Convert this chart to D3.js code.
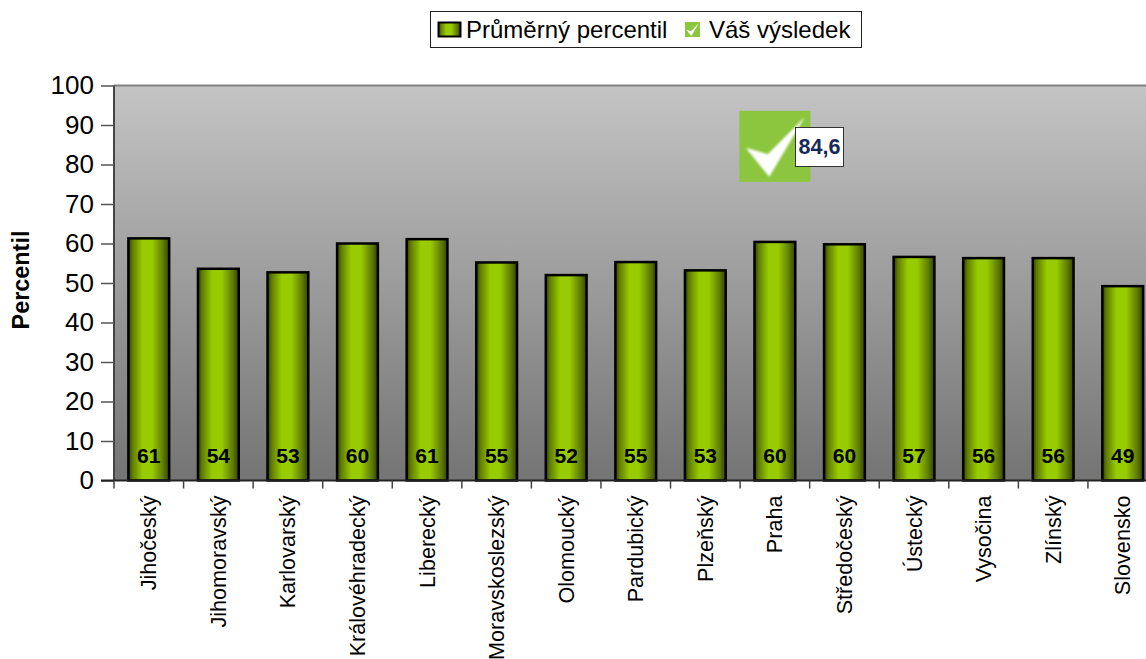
<!DOCTYPE html>
<html><head><meta charset="utf-8">
<script src="https://cdn.jsdelivr.net/npm/d3@7"></script>
<style>html,body{margin:0;padding:0;background:#fff;overflow:hidden}svg{display:block}text{font-family:"Liberation Sans",Arial,sans-serif}</style>
</head><body><svg id="c" width="1146" height="659"></svg>
<script>
const regions=["Jihočeský","Jihomoravský","Karlovarský","Královéhradecký","Liberecký","Moravskoslezský","Olomoucký","Pardubický","Plzeňský","Praha","Středočeský","Ústecký","Vysočina","Zlínský","Slovensko"];
const percentil=[61.3,53.6,52.7,60.0,61.1,55.2,52.0,55.3,53.2,60.4,59.8,56.6,56.3,56.3,49.2];
const yTicks=[0,10,20,30,40,50,60,70,80,90,100];
const yourResult={region:"Praha",value:84.6,label:"84,6"};
const legendLabels=["Průměrný percentil","Váš výsledek"];
const yTitle="Percentil";

const svg=d3.select("#c");
const L=114,R=1157.5,T=85.5,B=480.5;
const x=d3.scaleBand().domain(regions).range([L,R]).paddingInner(0.385).paddingOuter(0.1925);
const y=d3.scaleLinear().domain([0,100]).range([B,T]);
const defs=svg.append("defs");
const bg=defs.append("linearGradient").attr("id","bg").attr("x1",0).attr("y1",0).attr("x2",0).attr("y2",1);
bg.append("stop").attr("offset","0").attr("stop-color","#c4c4c4");
bg.append("stop").attr("offset","1").attr("stop-color","#747474");
const bar=defs.append("linearGradient").attr("id","bar");
[[0,"#2f3d00"],[0.1,"#5f7c00"],[0.35,"#99cc00"],[0.58,"#99cc00"],[0.85,"#5f7c00"],[1,"#334200"]].forEach(s=>bar.append("stop").attr("offset",s[0]).attr("stop-color",s[1]));
const wb=defs.append("filter").attr("id","soft").attr("x","-10%").attr("y","-10%").attr("width","120%").attr("height","120%");
wb.append("feGaussianBlur").attr("stdDeviation",1);
const check=(g,cx,cy,s)=>g.append("path")
  .attr("d",`M${cx-0.41*s},${cy+0.02*s}L${cx-0.10*s},${cy+0.11*s}L${cx+0.42*s},${cy-0.41*s}L${cx-0.08*s},${cy+0.43*s}Z`)
  .attr("fill","#fff");

svg.append("rect").attr("x",L).attr("y",T).attr("width",R-L).attr("height",B-T).attr("fill","url(#bg)");
svg.append("line").attr("x1",L).attr("x2",R).attr("y1",T).attr("y2",T).attr("stroke","#808080").attr("stroke-width",2);

svg.selectAll("rect.b").data(regions).join("rect").attr("class","b")
  .attr("x",d=>x(d)+1).attr("width",x.bandwidth()-2)
  .attr("y",(d,i)=>y(percentil[i])).attr("height",(d,i)=>B-y(percentil[i]))
  .attr("fill","url(#bar)").attr("stroke","#000").attr("stroke-width",2.5);

svg.selectAll("text.v").data(regions).join("text").attr("class","v")
  .attr("x",d=>x(d)+x.bandwidth()/2).attr("y",463).attr("text-anchor","middle")
  .attr("font-size",21).attr("font-weight","bold").attr("fill","#000")
  .text((d,i)=>Math.round(percentil[i]));

const yAxis=d3.axisLeft(y).tickValues(yTicks).tickSize(13).tickPadding(7).tickFormat(d3.format("d"));
const ya=svg.append("g").attr("transform",`translate(${L},0)`).call(yAxis);
ya.selectAll("text").attr("font-size",26).attr("fill","#000").attr("font-family",'"Liberation Sans",Arial,sans-serif');
ya.selectAll("line").attr("stroke","#555").attr("stroke-width",1.5);
ya.select(".domain").attr("stroke","#444").attr("stroke-width",2).attr("d",`M0,${T}V${B}`);

const xa=svg.append("g").attr("transform",`translate(0,${B})`);
xa.append("line").attr("x1",L-13).attr("x2",R).attr("stroke","#222").attr("stroke-width",2);
const bstep=x.step();
xa.selectAll("line.t").data(d3.range(16)).join("line").attr("class","t")
  .attr("x1",i=>L+i*bstep).attr("x2",i=>L+i*bstep).attr("y1",0).attr("y2",8).attr("stroke","#444").attr("stroke-width",1.5);
xa.selectAll("text").data(regions).join("text")
  .attr("transform",d=>`translate(${x(d)+x.bandwidth()/2+7.5},15) rotate(-90)`)
  .attr("text-anchor","end").attr("font-size",21.6).attr("fill","#000").text(d=>d);

svg.append("text").attr("transform",`translate(29,280) rotate(-90)`).attr("text-anchor","middle")
  .attr("font-size",23.4).attr("font-weight","bold").attr("fill","#000").text(yTitle);

const mx=x(yourResult.region)+x.bandwidth()/2, my=y(yourResult.value);
const m=svg.append("g");
m.append("rect").attr("x",mx-35.5).attr("y",my-35.5).attr("width",71).attr("height",71).attr("fill","#8cc63f");
check(m,mx,my,71).attr("filter","url(#soft)");
svg.append("rect").attr("x",795.5).attr("y",127.5).attr("width",48).attr("height",39).attr("fill","#fff").attr("stroke","#333").attr("stroke-width",1);
svg.append("text").attr("x",819.5).attr("y",154).attr("text-anchor","middle").attr("font-size",21.5).attr("font-weight","bold").attr("fill","#17285a").text(yourResult.label);

const lg=svg.append("g");
lg.append("rect").attr("x",430.5).attr("y",11.5).attr("width",431).attr("height",36).attr("fill","#fff").attr("stroke","#222").attr("stroke-width",1);
lg.append("rect").attr("x",438.5).attr("y",22.5).attr("width",22).attr("height",14).attr("fill","url(#bar)").attr("stroke","#000").attr("stroke-width",2);
lg.append("text").attr("x",466).attr("y",38).attr("font-size",24).attr("fill","#000").text(legendLabels[0]);
lg.append("rect").attr("x",685).attr("y",22).attr("width",15).attr("height",15).attr("fill","#8cc63f");
check(lg,692.5,29.5,15);
lg.append("text").attr("x",709).attr("y",38).attr("font-size",24).attr("fill","#000").text(legendLabels[1]);
</script></body></html>
